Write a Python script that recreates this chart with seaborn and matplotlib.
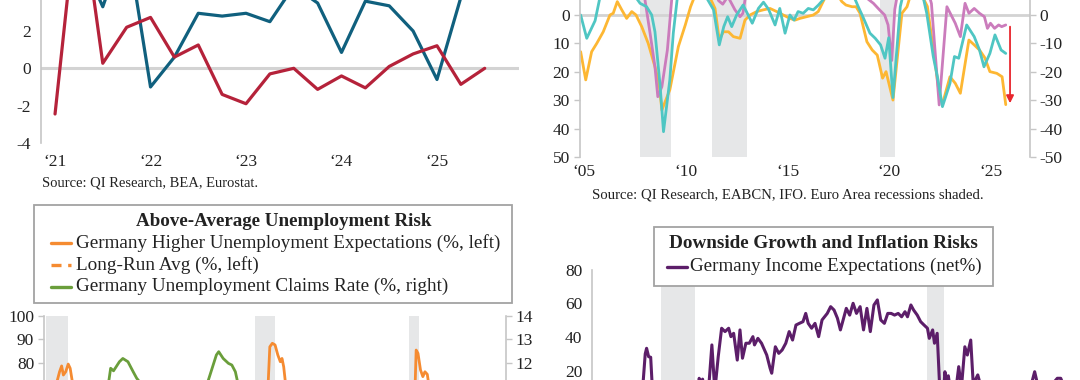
import matplotlib
matplotlib.use("Agg")
import matplotlib.pyplot as plt
from matplotlib.lines import Line2D
from matplotlib.patches import Rectangle
import seaborn as sns
import pandas as pd

W, H = 1080, 380

sns.set_style("white")
plt.rcParams["font.family"] = ["Liberation Serif", "DejaVu Serif"]
plt.rcParams["axes.unicode_minus"] = False

# ---------------- data ----------------
# top left: quarterly GDP growth (annualised), from 2021Q1
tl_us_q = pd.period_range("2021Q1", "2025Q2", freq="Q")
tl_us = [5.2, 6.2, 3.3, 7.0, -1.0, 0.6, 2.95, 2.8, 2.95, 2.5, 4.4, 3.5, 0.85, 3.6, 3.35, 2.0, -0.6, 3.8]
tl_ea_q = pd.period_range("2021Q1", "2025Q3", freq="Q")
tl_ea = [-2.45, 9.5, 0.27, 2.2, 2.73, 0.6, 1.25, -1.4, -1.9, -0.3, 0.0, -1.13, -0.41, -1.05, 0.1, 0.77, 1.21, -0.86, 0.0]
tl_years = [2021, 2022, 2023, 2024, 2025]
tl_yticks = [-4, -2, 0, 2]

# top right: sentiment balances (right axis scale, left axis shows the sign flipped)
tr_yellow_t = [2005.07, 2005.32, 2005.61, 2005.86, 2006.18, 2006.51, 2006.67, 2006.87, 2007.09, 2007.33,
               2007.58, 2007.79, 2008.07, 2008.39, 2008.72, 2008.92, 2009.06, 2009.45, 2009.87, 2010.21,
               2010.47, 2010.75, 2011.0, 2011.3, 2011.67, 2011.88, 2012.08, 2012.33, 2012.57, 2012.9,
               2013.14, 2013.39, 2013.72, 2014.04, 2014.37, 2014.7, 2015.02, 2015.35, 2015.6, 2015.84,
               2016.17, 2016.5, 2016.74, 2017.0, 2017.3, 2017.6, 2017.9, 2018.1, 2018.4, 2018.6,
               2018.79, 2019.13, 2019.39, 2019.64, 2019.9, 2020.07, 2020.41, 2020.85, 2021.1, 2021.4,
               2021.75, 2022.1, 2022.44, 2022.7, 2022.85, 2023.21, 2023.47, 2023.72, 2024.14, 2024.4,
               2024.66, 2024.92, 2025.17, 2025.51, 2025.77, 2025.95]
tr_yellow_v = [-12.9, -22.8, -12.9, -10.0, -5.9, 0.0, 0.6, 4.7, 1.8, -1.2,
               1.2, 0.0, -4.1, -10.0, -18.2, -24.0, -33.4, -26.3, -11.1, -3.5,
               2.9, 8.0, 10.0, 8.0, 2.3, -8.8, -5.9, -5.9, -7.6, -8.2,
               -1.8, 0.0, 1.2, 1.8, 2.3, 1.2, 0.0, -1.2, -1.8, -1.2,
               -0.6, 0.0, 1.2, 5.0, 9.0, 8.0, 4.7, 3.5, 2.9, 2.9,
               0.6, -9.4, -12.3, -14.1, -22.2, -19.9, -29.9, 0.6, 2.9, 10.0,
               8.0, 3.0, -14.6, -28.7, -31.0, -21.7, -24.0, -27.5, -8.8, -10.5,
               -12.3, -15.0, -19.9, -20.5, -21.7, -31.5]

tr_teal_t = [2005.07, 2005.37, 2005.78, 2006.1, 2006.6, 2007.2, 2007.6, 2007.99, 2008.31, 2008.56,
             2008.72, 2008.97, 2009.14, 2009.45, 2009.62, 2009.85, 2010.3, 2010.8, 2011.26, 2011.6,
             2011.88, 2012.1, 2012.29, 2012.49, 2012.73, 2013.05, 2013.5, 2013.8, 2014.05, 2014.3,
             2014.62, 2014.85, 2015.11, 2015.35, 2015.55, 2015.75, 2016.0, 2016.25, 2016.5, 2016.75,
             2017.0, 2017.4, 2017.9, 2018.4, 2018.7, 2018.93, 2019.28, 2019.54, 2019.8, 2020.02,
             2020.2, 2020.41, 2020.77, 2021.0, 2021.5, 2021.9, 2022.07, 2022.39, 2022.6, 2022.84,
             2023.21, 2023.43, 2023.64, 2024.03, 2024.4, 2024.66, 2024.88, 2025.17, 2025.42, 2025.72,
             2025.95]
tr_teal_v = [0.0, -8.2, -2.0, 9.0, 12.0, 12.0, 8.0, 4.1, 2.9, 0.0,
             -5.9, -24.6, -41.0, -22.8, -6.4, 8.0, 14.0, 15.0, 6.0, 1.8,
             -10.5, -4.1, -0.6, -4.1, 0.0, 3.5, -2.9, 2.3, 4.5, 2.0,
             -3.5, 2.3, -6.4, 0.0, -1.8, 1.2, 0.6, 2.3, 1.8, 3.5,
             5.5, 10.0, 12.0, 8.0, 3.0, -0.6, -6.4, -8.2, -10.5, -15.2,
             -8.0, -29.0, 2.9, 10.0, 14.0, 6.0, 0.6, -14.6, -22.0, -32.2,
             -24.0, -14.6, -15.2, -3.5, -7.6, -12.3, -18.2, -13.5, -7.0, -12.3,
             -13.5]

tr_pink_t = [2005.0, 2005.5, 2006.0, 2006.5, 2007.0, 2007.5, 2007.9, 2008.23, 2008.48, 2008.72,
             2008.86, 2009.06, 2009.33, 2009.55, 2009.9, 2010.5, 2011.0, 2011.5, 2011.85, 2012.05,
             2012.3, 2012.65, 2012.9, 2013.04, 2013.2, 2013.6, 2014.5, 2015.5, 2016.5, 2017.5,
             2018.5, 2019.2, 2019.45, 2019.75, 2020.0, 2020.17, 2020.35, 2020.5, 2020.7, 2021.5,
             2022.0, 2022.3, 2022.68, 2023.06, 2023.47, 2023.72, 2023.95, 2024.14, 2024.4, 2024.66,
             2024.9, 2025.05, 2025.2, 2025.4, 2025.6, 2025.75, 2025.95]
tr_pink_v = [12.0, 14.0, 16.0, 18.0, 17.0, 15.0, 10.0, 5.3, -6.4, -18.2,
             -28.7, -25.2, -12.3, 6.0, 15.0, 20.0, 18.0, 10.0, 5.0, 3.8,
             6.5, 1.8, -0.6, 0.6, 8.0, 12.0, 14.0, 15.0, 14.0, 18.0,
             12.0, 5.5, 4.1, 1.8, 0.0, -3.5, -16.0, 2.0, 10.0, 20.0,
             12.0, 4.0, -31.6, 2.9, -2.9, -7.6, 4.1, 0.6, 2.3, 0.6,
             -0.6, -4.7, -2.9, -4.7, -3.5, -4.1, -3.5]

tr_recessions = [(2008.0, 2009.5), (2011.5, 2013.25), (2019.75, 2020.5)]
tr_years = [2005, 2010, 2015, 2020, 2025]
tr_yticks = [-50, -40, -30, -20, -10, 0]
tr_arrow = (2026.16, -4.1, -31.0)

# bottom left: unemployment expectations (left) and claims rate (right)
bl_exp_t = [1991.9, 1992.3, 1992.6, 1992.86, 1993.05, 1993.21, 1993.34, 1993.52, 1993.71, 1993.86,
            1994.05, 1994.5, 1995.0, 1995.5, 1996.0, 1996.5, 1997.0, 1998.0, 1999.0, 2000.0,
            2001.0, 2001.8, 2002.5, 2003.3, 2004.0, 2005.0, 2006.0, 2007.0, 2008.0, 2008.5,
            2008.98, 2009.1, 2009.29, 2009.5, 2009.71, 2009.9, 2010.03, 2010.16, 2010.3, 2010.8,
            2011.5, 2012.5, 2013.5, 2014.5, 2015.5, 2016.5, 2017.5, 2018.5, 2019.5, 2020.1,
            2020.2, 2020.27, 2020.41, 2020.6, 2020.78, 2020.94, 2021.12, 2021.25, 2021.6, 2022.0,
            2022.5, 2023.0, 2023.5, 2024.0, 2024.5, 2025.0, 2025.7]
bl_exp_v = [55, 60, 66, 72.0, 76.1, 78.6, 74.7, 76.1, 79.4, 77.6,
            71, 62, 55, 58, 62, 57, 52, 45, 40, 32,
            48, 60, 68, 71, 62, 58, 45, 30, 38, 55,
            72, 86.8, 88.3, 87.6, 83.3, 80.4, 81.8, 78.2, 71, 55,
            40, 45, 38, 33, 35, 30, 25, 28, 40, 62,
            72, 85.4, 84.0, 76.9, 74.0, 76.1, 75.0, 70, 55, 50,
            62, 55, 52, 58, 62, 60, 63]
bl_exp_avg = 45
bl_claims_t = [1991.9, 1992.5, 1993.0, 1993.5, 1994.0, 1994.5, 1995.0, 1995.5, 1996.0, 1996.5,
               1996.82, 1996.95, 1997.17, 1997.62, 1997.88, 1998.27, 1998.67, 1998.94, 1999.2, 1999.6,
               2000.0, 2000.5, 2001.0, 2001.5, 2002.0, 2002.5, 2003.0, 2003.5, 2004.0, 2004.35,
               2005.02, 2005.2, 2005.54, 2005.94, 2006.2, 2006.47, 2006.63, 2007.0, 2007.5, 2008.0,
               2008.5, 2009.0, 2009.5, 2010.0, 2011.0, 2012.0, 2013.0, 2014.0, 2015.0, 2016.0,
               2017.0, 2018.0, 2019.0, 2019.8, 2020.5, 2021.0, 2021.5, 2022.0, 2022.5, 2023.0,
               2024.0, 2025.0, 2025.8]
bl_claims_v = [8.0, 8.3, 9.0, 9.6, 10.3, 10.1, 10.0, 10.2, 10.8, 10.9,
               11.25, 11.76, 11.65, 12.04, 12.18, 12.04, 11.61, 11.33, 11.15, 10.9,
               10.5, 10.1, 9.9, 10.0, 10.3, 10.6, 10.9, 11.0, 10.9, 11.15,
               12.33, 12.47, 12.18, 11.97, 11.9, 11.61, 11.2, 10.6, 9.6, 9.0,
               8.2, 8.2, 8.4, 8.0, 7.2, 6.9, 6.9, 6.8, 6.6, 6.2,
               5.8, 5.3, 5.0, 5.0, 6.3, 6.0, 5.7, 5.1, 5.3, 5.6,
               5.9, 6.3, 6.4]
bl_recessions = [(1992.0, 1993.67), (2008.0, 2009.5), (2019.75, 2020.5)]
bl_yticks_left = [70, 80, 90, 100]
bl_yticks_right = [11, 12, 13, 14]

# bottom right: income expectations (net %)
br_inc_t = [2005.0, 2005.5, 2006.0, 2006.5, 2007.0, 2007.2, 2007.3, 2007.36, 2007.45, 2007.54,
            2007.62, 2007.9, 2008.3, 2008.8, 2009.3, 2009.6, 2009.68, 2009.75, 2009.83, 2009.9,
            2010.1, 2010.24, 2010.37, 2010.52, 2010.67, 2010.82, 2010.98, 2011.08, 2011.2, 2011.36,
            2011.48, 2011.59, 2011.74, 2011.89, 2012.05, 2012.12, 2012.27, 2012.43, 2012.66, 2012.81,
            2012.88, 2013.04, 2013.19, 2013.34, 2013.5, 2013.65, 2013.8, 2013.95, 2014.1, 2014.26,
            2014.38, 2014.49, 2014.64, 2014.79, 2014.95, 2015.1, 2015.33, 2015.48, 2015.63, 2015.78,
            2015.91, 2016.01, 2016.17, 2016.32, 2016.47, 2016.62, 2016.78, 2016.93, 2017.08, 2017.23,
            2017.39, 2017.54, 2017.69, 2017.85, 2018.0, 2018.15, 2018.3, 2018.46, 2018.61, 2018.76,
            2018.87, 2019.02, 2019.14, 2019.3, 2019.45, 2019.6, 2019.75, 2019.83, 2019.98, 2020.06,
            2020.18, 2020.29, 2020.4, 2020.52, 2020.6, 2020.67, 2020.8, 2021.0, 2021.13, 2021.25,
            2021.4, 2021.51, 2021.66, 2021.77, 2021.97, 2022.04, 2022.3, 2022.8, 2023.3, 2023.8,
            2024.2, 2024.48, 2024.64, 2025.0, 2025.48, 2025.63, 2025.8]
br_inc_v = [2, -5, 0, 5, 8, 12, 30, 33.3, 28.3, 28,
            8, 0, -10, -20, -15, 5, 15.5, 12, 15, 8,
            10, 35.3, 8, 28.3, 45.2, 43.2, 45.2, 40.2, 42.2, 26.3,
            44.2, 27.4, 36.3, 36.3, 40.2, 35.3, 39.2, 36.3, 29.3, 21.4,
            18.5, 34.2, 30.3, 32.3, 36.3, 43.2, 38.2, 47.1, 48.1, 49.1,
            54, 48.1, 45.2, 48.1, 40.2, 50.1, 54, 58, 56, 51.1,
            44.2, 49.1, 57, 53, 60, 54, 58, 44.2, 57, 43.2,
            59, 62, 50.1, 48.1, 54, 54, 53, 54, 52, 55,
            52, 59, 56, 53, 49.1, 47.1, 45.2, 39.2, 44.2, 36.3,
            42.2, 10, -5, 19.4, 12, 17, 5, 8, 22.4, 10,
            34.2, 29.3, 38.2, 12, 17.5, 14, -10, -25, -10, -5,
            5, 19.4, 10, 8, 15.5, 15.5, 10]
br_recessions = [(2008.0, 2009.5), (2019.75, 2020.5)]
br_yticks = [20, 40, 60, 80]

# ---------------- styling ----------------
BLUE, RED = "#10607e", "#b5223a"
YELLOW, TEAL, PINK, ARROW = "#fdb733", "#4fc6c3", "#cb7cbc", "#e8262d"
ORANGE, GREEN, PURPLE = "#f58b31", "#6a9e3b", "#5c1e69"
SHADE, SPINE, ZERO, TXT = "#e6e7e8", "#c6c6c6", "#d3d3d3", "#222222"
TICK_FS = 12.5

fig = plt.figure(figsize=(W / 100, H / 100), dpi=100)


def px_axes(left, top, right, bottom):
    return fig.add_axes([left / W, 1 - bottom / H, (right - left) / W, (bottom - top) / H])


def fx(x):
    return x / W


def fy(y):
    return 1 - y / H


def clean(ax, left=True, right=False):
    for s in ["top", "bottom", "left", "right"]:
        ax.spines[s].set_visible(False)
    ax.set_facecolor("none")
    if left:
        ax.spines["left"].set_visible(True)
        ax.spines["left"].set_color(SPINE)
        ax.spines["left"].set_linewidth(1.2)
    if right:
        ax.spines["right"].set_visible(True)
        ax.spines["right"].set_color(SPINE)
        ax.spines["right"].set_linewidth(1.2)
    ax.tick_params(axis="y", length=4, width=1, color=SPINE, labelsize=TICK_FS, labelcolor=TXT, pad=3)
    ax.tick_params(axis="x", length=0, labelsize=TICK_FS, labelcolor=TXT)
    ax.set_xlabel("")
    ax.set_ylabel("")


def line(ax, x, y, color, lw):
    sns.lineplot(x=x, y=y, ax=ax, color=color, linewidth=lw, estimator=None, sort=False, legend=False)


def yq(periods):
    return [p.year + (p.quarter - 1) / 4 for p in periods]


# ---- top left ----
ax = px_axes(41, -118.2, 519, 142.9)
ax.axhline(0, color=ZERO, lw=2.2, zorder=0)
line(ax, yq(tl_us_q), tl_us, BLUE, 2.3)
line(ax, yq(tl_ea_q), tl_ea, RED, 2.3)
ax.set_xlim(2020.853, 2025.859)
ax.set_ylim(-4, 10)
clean(ax)
ax.set_yticks(tl_yticks)
ax.set_xticks(tl_years)
ax.set_xticklabels([f"\u2018{y % 100:02d}" for y in tl_years])
ax.tick_params(axis="x", pad=8)
fig.text(fx(41.5), fy(183), "Source: QI Research, BEA, Eurostat.", fontsize=10.5, color=TXT, va="center")

# ---- top right ----
ax = px_axes(579.5, -70.4, 1029.5, 157.3)
for a, b in tr_recessions:
    ax.axvspan(a, b, color=SHADE, lw=0, zorder=0)
ax.axhline(0, color=ZERO, lw=2.0, zorder=0.5)
line(ax, tr_yellow_t, tr_yellow_v, YELLOW, 2.0)
line(ax, tr_pink_t, tr_pink_v, PINK, 2.0)
line(ax, tr_teal_t, tr_teal_v, TEAL, 2.0)
ax.annotate("", xy=(tr_arrow[0], tr_arrow[2]), xytext=(tr_arrow[0], tr_arrow[1]),
            arrowprops=dict(arrowstyle="-|>", color=ARROW, lw=1.3, mutation_scale=11, shrinkA=0, shrinkB=0))
ax.set_xlim(2005.014, 2027.116)
ax.set_ylim(-50, 30)
clean(ax)
ax.set_yticks(tr_yticks)
ax.set_yticklabels([str(int(-v)) for v in tr_yticks])
ax.set_xticks([y + 0.23 for y in tr_years])
ax.set_xticklabels([f"\u2018{y % 100:02d}" for y in tr_years])
ax.tick_params(axis="x", pad=5)
axr = ax.twinx()
axr.set_ylim(-50, 30)
clean(axr, left=False, right=True)
axr.set_yticks(tr_yticks)
axr.set_yticklabels([str(v) for v in tr_yticks])
fig.text(fx(591.9), fy(195), "Source: QI Research, EABCN, IFO. Euro Area recessions shaded.",
         fontsize=10.6, color=TXT, va="center")

# ---- bottom left ----
ax = px_axes(43.9, 316, 505.9, 549.3)
for a, b in bl_recessions:
    ax.axvspan(a, b, color=SHADE, lw=0, zorder=0)
ax.axhline(bl_exp_avg, color=ORANGE, lw=2.0, ls=(0, (4, 3)))
line(ax, bl_exp_t, bl_exp_v, ORANGE, 2.0)
ax.set_xlim(1991.855, 2027.12)
ax.set_ylim(0, 100)
clean(ax)
ax.set_yticks(bl_yticks_left)
ax.set_xticks([])
axr = ax.twinx()
line(axr, bl_claims_t, bl_claims_v, GREEN, 2.0)
axr.set_xlim(1991.855, 2027.12)
axr.set_ylim(4, 14)
clean(axr, left=False, right=True)
axr.set_yticks(bl_yticks_right)
axr.set_xticks([])

# ---- bottom right ----
ax = px_axes(591.9, 269.6, 1094.5, 505.5)
for a, b in br_recessions:
    ax.axvspan(a, b, color=SHADE, lw=0, zorder=0)
line(ax, br_inc_t, br_inc_v, PURPLE, 2.2)
ax.set_xlim(2004.947, 2027.12)
ax.set_ylim(-60, 80)
clean(ax)
ax.set_yticks(br_yticks)
ax.set_xticks([])


# ---- legend boxes ----
def box(x0, y0, x1, y1):
    fig.patches.append(Rectangle((fx(x0), fy(y1)), fx(x1 - x0), (y1 - y0) / H, transform=fig.transFigure,
                                 facecolor="white", edgecolor="#a3a3a3", lw=1.3, zorder=5))


def handle(x0, x1, y, color, ls="-"):
    fig.lines.append(Line2D([fx(x0), fx(x1)], [fy(y), fy(y)], transform=fig.transFigure,
                            color=color, lw=2.4, ls=ls, zorder=6))


box(33.6, 205, 512, 302.7)
fig.text(fx(284), fy(221.7), "Above-Average Unemployment Risk", fontsize=13.7, fontweight="bold",
         ha="center", va="center", color=TXT, zorder=7)
bl_entries = [("Germany Higher Unemployment Expectations (%, left)", "-", ORANGE),
              ("Long-Run Avg (%, left)", (0, (3, 2)), ORANGE),
              ("Germany Unemployment Claims Rate (%, right)", "-", GREEN)]
for (label, ls, c), y in zip(bl_entries, [243.3, 265, 286.7]):
    handle(50.9, 70.9, y, c, ls)
    fig.text(fx(76.1), fy(y), label, fontsize=13.8, va="center", color=TXT, zorder=7)

box(654.2, 226.7, 993.3, 285.7)
fig.text(fx(823.4), fy(243.3), "Downside Growth and Inflation Risks", fontsize=13.8, fontweight="bold",
         ha="center", va="center", color=TXT, zorder=7)
handle(667.3, 687, 266.7, PURPLE)
fig.text(fx(690.5), fy(266.7), "Germany Income Expectations (net%)", fontsize=13.7, va="center",
         color=TXT, zorder=7)

fig.savefig("out.png", dpi=100)
